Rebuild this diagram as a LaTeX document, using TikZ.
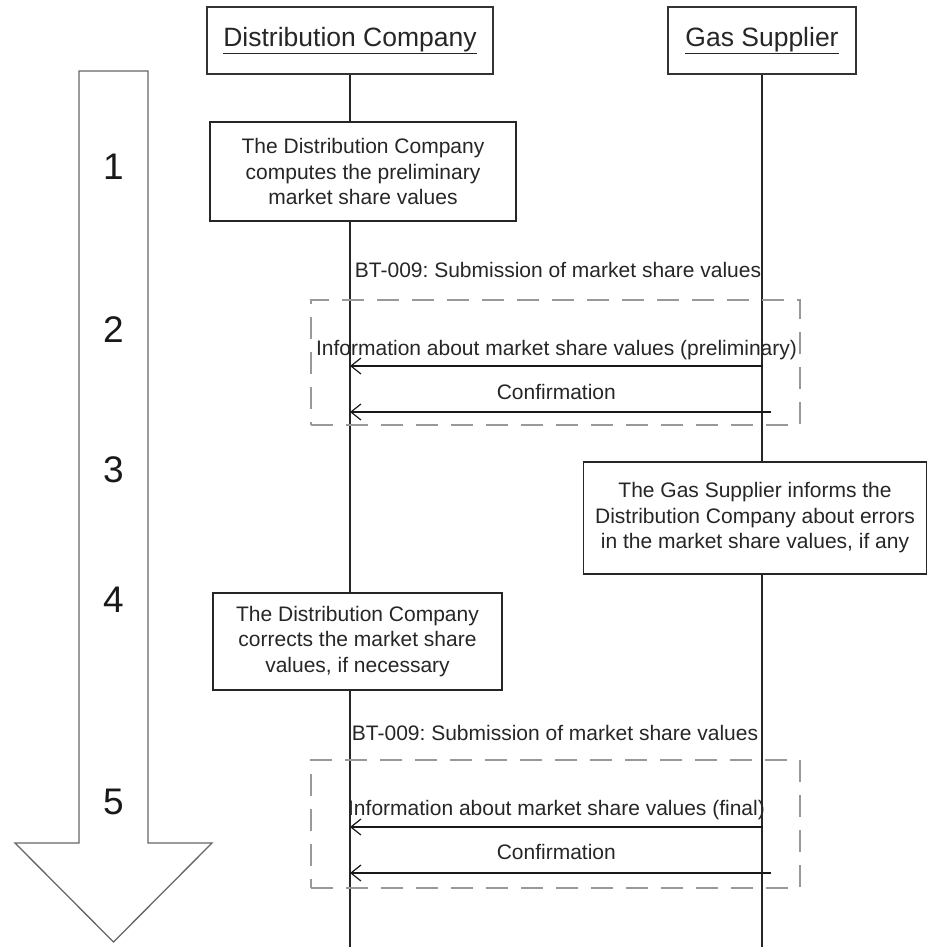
\documentclass[tikz,border=0pt]{standalone}
\usepackage{fontspec}
\setmainfont{Liberation Sans}
\usetikzlibrary{arrows.meta}
\frenchspacing

\begin{document}
\begin{tikzpicture}[x=1pt,y=-1pt,
  lbl/.style={font=\fontsize{21}{25.5}\selectfont, text=black!85},
  actor/.style={draw=black!80, line width=1.5pt, fill=white, inner sep=0pt, text=black!85, font=\fontsize{26.5}{30}\selectfont},
  task/.style={draw=black!85, line width=1.3pt, fill=white, align=center, inner sep=0pt, lbl},
  group/.style={draw=black!40, line width=1.6pt, dash pattern=on 22pt off 13pt, inner sep=0pt},
  life/.style={draw=black!85, line width=1.2pt},
  msg/.style={draw=black!90, line width=1.2pt, -{Straight Barb[length=10pt,width=16pt]}},
  phase/.style={font=\fontsize{37}{40}\selectfont, text=black!90}]
\useasboundingbox (0,0) rectangle (928,947);
\draw[draw=black!60, line width=1.3pt, fill=white] (79,71) -- (148,71) -- (148,843) -- (212,843) -- (113.5,942) -- (15,843) -- (79,843) -- cycle;
\node[phase] (n1) at (113.5,167) {1};
\node[phase] (n2) at (113.5,330) {2};
\node[phase] (n3) at (113.5,470) {3};
\node[phase] (n4) at (113.5,600) {4};
\node[phase] (n5) at (113.5,802) {5};
\node[actor, minimum width=286pt, minimum height=67pt] (dc) at (350,40.5) {\underline{Distribution Company}};
\node[actor, minimum width=188pt, minimum height=67pt] (gs) at (762,40.5) {\underline{Gas Supplier}};
\coordinate (dcend) at (350,947);
\coordinate (gsend) at (762,947);
\draw[life] (dc.south) -- (dcend);
\draw[life] (gs.south) -- (gsend);
\node[task, minimum width=306pt, minimum height=99pt] (compute) at (363,171.5) {The Distribution Company\\computes the preliminary\\market share values};
\node[lbl] (bt1) at (558,270) {BT-009: Submission of market share values};
\node[group, minimum width=489pt, minimum height=125pt] (grp1) at (555.5,362.5) {};
\coordinate (m1s) at (763,366);
\coordinate (m1e) at (350,366);
\coordinate (m2s) at (771,412);
\coordinate (m2e) at (350,412);
\draw[msg] (m1s) -- (m1e) node[midway, lbl, anchor=base, yshift=11pt] {Information about market share values (preliminary)};
\draw[msg] (m2s) -- (m2e) node[pos=0.51, lbl, anchor=base, yshift=12.5pt] {Confirmation};
\node[task, minimum width=343pt, minimum height=112pt] (inform) at (755,518) {The Gas Supplier informs the\\Distribution Company about errors\\in the market share values, if any};
\node[task, minimum width=289pt, minimum height=97pt] (correct) at (357.5,641.5) {The Distribution Company\\corrects the market share\\values, if necessary};
\node[lbl] (bt2) at (555,733) {BT-009: Submission of market share values};
\node[group, minimum width=489pt, minimum height=128pt] (grp2) at (555.5,824) {};
\coordinate (m3s) at (763,827);
\coordinate (m3e) at (350,827);
\coordinate (m4s) at (771,873);
\coordinate (m4e) at (350,873);
\draw[msg] (m3s) -- (m3e) node[midway, lbl, anchor=base, yshift=11.5pt] {Information about market share values (final)};
\draw[msg] (m4s) -- (m4e) node[pos=0.51, lbl, anchor=base, yshift=13.5pt] {Confirmation};
\end{tikzpicture}
\end{document}
